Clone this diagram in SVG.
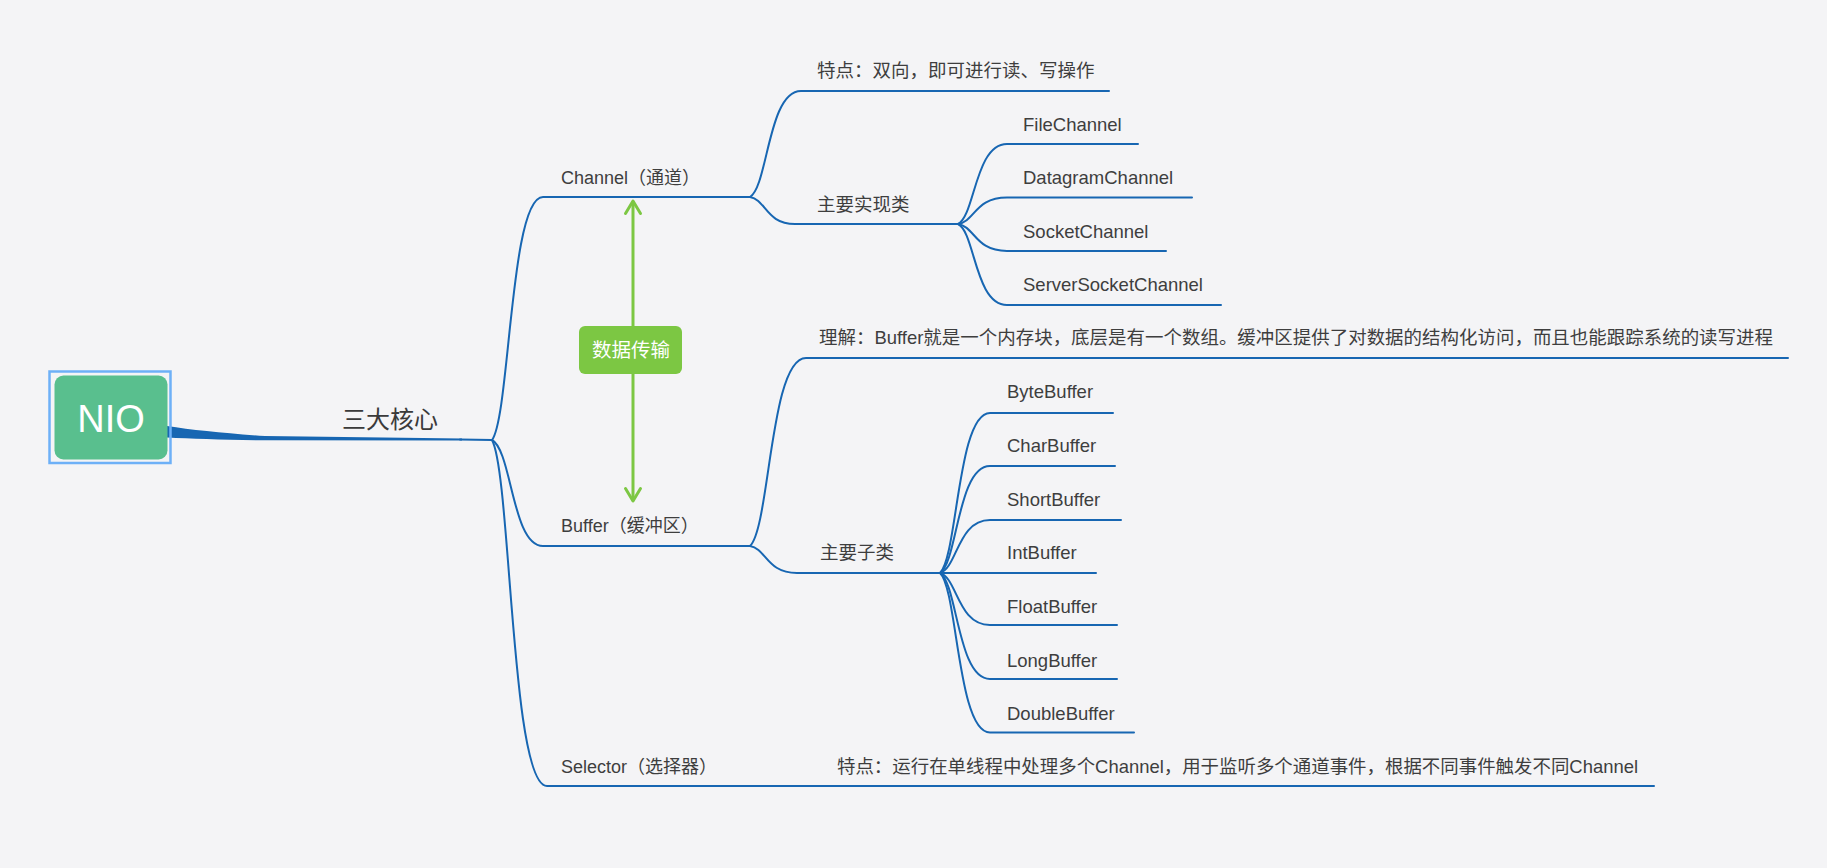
<svg xmlns="http://www.w3.org/2000/svg" width="1827" height="868" viewBox="0 0 1827 868">
<style>
.ln{fill:none;stroke:#1766b2;stroke-width:2;stroke-linecap:round}
.t{font-family:"Liberation Sans","Noto Sans CJK SC",sans-serif;font-size:18.5px;fill:#3e3e3e}
.t2{font-family:"Liberation Sans","Noto Sans CJK SC",sans-serif;font-size:18px;fill:#3e3e3e}
.g{fill:none;stroke:#7cc743;stroke-width:3;stroke-linecap:round;stroke-linejoin:round}
</style>
<rect x="0" y="0" width="1827" height="868" fill="#f4f4f6"/>
<g id="connectors">
<path d="M167,426 Q205,432 265,436 L462,438.6 L462,440.6 L265,440.3 Q205,439.5 167,437.5 Z" fill="#1766b2"/>
<path class="ln" d="M460,439.6 L492,440"/>
<path class="ln" d="M492,440 C510,415.7 510,197 543,197 L750,197"/>
<path class="ln" d="M492,440 C512,450.6 512,546 543,546 L750,546"/>
<path class="ln" d="M492,440 C511,474.6 511,786 547,786 L1654,786"/>
<path class="ln" d="M750,197 C768,186.4 768,91 801,91 L1109,91"/>
<path class="ln" d="M750,197 C766,199.7 766,224 795,224 L958,224"/>
<path class="ln" d="M958,224 C975,216 975,144 1007,144 L1138,144"/>
<path class="ln" d="M958,224 C975,221.4 975,197.5 1007,197.5 L1192,197.5"/>
<path class="ln" d="M958,224 C975,226.7 975,251 1007,251 L1166,251"/>
<path class="ln" d="M958,224 C975,232 975,305 1007,305 L1221,305"/>
<path class="ln" d="M750,546 C770,527.2 770,358 806,358 L1788,358"/>
<path class="ln" d="M750,546 C766.5,548.7 766.5,573 797,573 L940,573"/>
<path class="ln" d="M940,573 C957.5,557 957.5,413 990,413 L1113,413"/>
<path class="ln" d="M940,573 C957.5,562.3 957.5,466 990,466 L1115,466"/>
<path class="ln" d="M940,573 C957.5,567.7 957.5,520 990,520 L1121,520"/>
<path class="ln" d="M940,573 L1096,573"/>
<path class="ln" d="M940,573 C957.5,578.2 957.5,625 990,625 L1117,625"/>
<path class="ln" d="M940,573 C957.5,583.6 957.5,679 990,679 L1117,679"/>
<path class="ln" d="M940,573 C957.5,589 957.5,732.5 990,732.5 L1134,732.5"/>
<path class="g" d="M633,202 L633,500"/>
<path class="g" d="M625.5,213.5 L633,201 L640.5,213.5"/>
<path class="g" d="M625.5,488.5 L633,501 L640.5,488.5"/>
</g>
<g id="node-nio">
<rect x="49.5" y="371.5" width="121" height="91.5" fill="none" stroke="#6db0f7" stroke-width="2.5"/>
<rect x="54.5" y="375.5" width="113" height="84" rx="9" fill="#59bf8e"/>
<text x="111" y="431.5" text-anchor="middle" font-family="Liberation Sans, sans-serif" font-size="38" fill="#ffffff">NIO</text>
</g>
<g id="node-core"><text x="342" y="428" font-family="Liberation Sans, Noto Sans CJK SC, sans-serif" font-size="24" fill="#3a3a3a">三大核心</text></g>
<g id="node-transfer">
<rect x="579" y="326" width="103" height="48" rx="6" fill="#7cc743"/>
<text x="631" y="357" text-anchor="middle" font-family="Liberation Sans, Noto Sans CJK SC, sans-serif" font-size="19.5" fill="#ffffff">数据传输</text>
</g>
<g id="node-channel"><text class="t2" x="561" y="184">Channel（通道）</text></g>
<g id="node-channel-feature"><text class="t" x="817" y="77">特点：双向，即可进行读、写操作</text></g>
<g id="node-channel-impl"><text class="t" x="817" y="211">主要实现类</text></g>
<g id="node-filechannel"><text class="t" x="1023" y="131">FileChannel</text></g>
<g id="node-datagramchannel"><text class="t" x="1023" y="184">DatagramChannel</text></g>
<g id="node-socketchannel"><text class="t" x="1023" y="238">SocketChannel</text></g>
<g id="node-serversocketchannel"><text class="t" x="1023" y="291">ServerSocketChannel</text></g>
<g id="node-buffer"><text class="t2" x="561" y="532">Buffer（缓冲区）</text></g>
<g id="node-buffer-desc"><text class="t" x="819" y="344" textLength="954" lengthAdjust="spacingAndGlyphs">理解：Buffer就是一个内存块，底层是有一个数组。缓冲区提供了对数据的结构化访问，而且也能跟踪系统的读写进程</text></g>
<g id="node-buffer-sub"><text class="t" x="820" y="559">主要子类</text></g>
<g id="node-bytebuffer"><text class="t" x="1007" y="398">ByteBuffer</text></g>
<g id="node-charbuffer"><text class="t" x="1007" y="452">CharBuffer</text></g>
<g id="node-shortbuffer"><text class="t" x="1007" y="506">ShortBuffer</text></g>
<g id="node-intbuffer"><text class="t" x="1007" y="559">IntBuffer</text></g>
<g id="node-floatbuffer"><text class="t" x="1007" y="613">FloatBuffer</text></g>
<g id="node-longbuffer"><text class="t" x="1007" y="667">LongBuffer</text></g>
<g id="node-doublebuffer"><text class="t" x="1007" y="720">DoubleBuffer</text></g>
<g id="node-selector"><text class="t2" x="561" y="773">Selector（选择器）</text></g>
<g id="node-selector-feature"><text class="t" x="837" y="773" textLength="801" lengthAdjust="spacingAndGlyphs">特点：运行在单线程中处理多个Channel，用于监听多个通道事件，根据不同事件触发不同Channel</text></g>
</svg>
